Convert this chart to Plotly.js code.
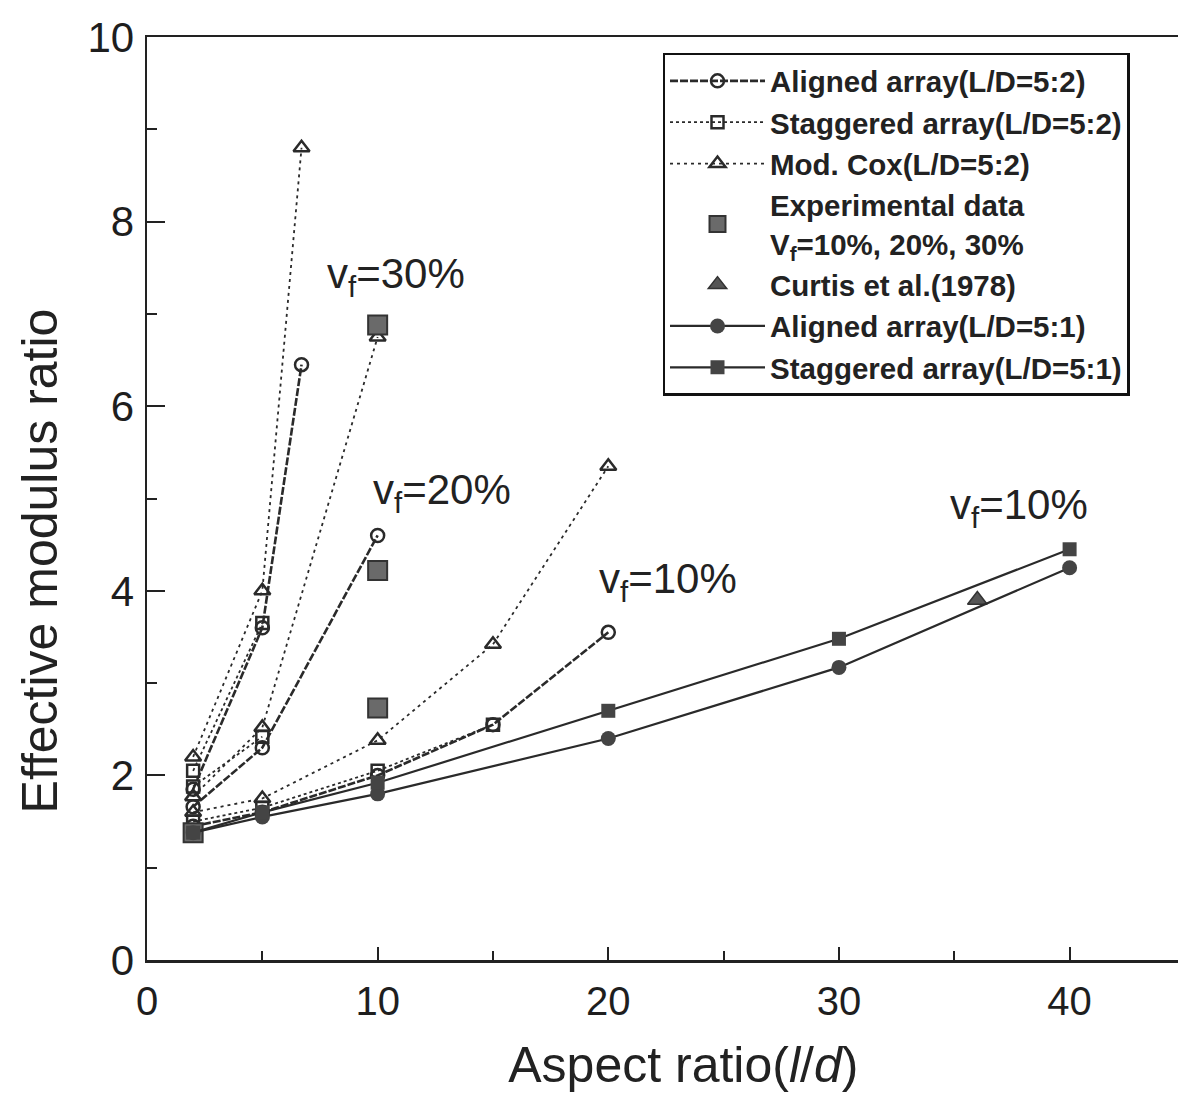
<!DOCTYPE html>
<html><head><meta charset="utf-8">
<script src="https://cdn.plot.ly/plotly-3.0.1.min.js"></script>
<style>body{margin:0;background:#fff}#c{width:1178px;height:1101px}</style>
</head><body><div id="c"></div>
<script>
// Aligned array (L/D=5:2)
const al52_30_x=[2,5,6.7], al52_30_y=[1.85,3.6,6.45];
const al52_20_x=[2,5,10], al52_20_y=[1.66,2.3,4.6];
const al52_10_x=[2,5,10,15,20], al52_10_y=[1.45,1.6,2.0,2.55,3.55];
// Staggered array (L/D=5:2)
const st52_30_x=[2,5], st52_30_y=[2.05,3.65];
const st52_20_x=[2,5], st52_20_y=[1.88,2.42];
const st52_10_x=[2,5,10,15], st52_10_y=[1.5,1.65,2.05,2.55];
// Mod. Cox (L/D=5:2)
const cox_30_x=[2,5,6.7], cox_30_y=[2.2,4.0,8.8];
const cox_20_x=[2,5,10], cox_20_y=[1.77,2.52,6.75];
const cox_10_x=[2,5,10,15,20], cox_10_y=[1.6,1.75,2.38,3.42,5.35];
// Experimental data
const exp_x=[2,10,10,10], exp_y=[1.38,2.73,4.22,6.88];
// Curtis et al. (1978)
const curtis_x=[36], curtis_y=[3.9];
// L/D=5:1, vf=10%
const al51_x=[2,5,10,20,30,40], al51_y=[1.38,1.55,1.8,2.4,3.17,4.25];
const st51_x=[2,5,10,20,30,40], st51_y=[1.38,1.6,1.92,2.7,3.48,4.45];
// labels
const lab_x=[10.8,12.8,22.6,37.8], lab_y=[7.4,5.07,4.1,4.9];
const lab_t=['v<sub>f</sub>=30%','v<sub>f</sub>=20%','v<sub>f</sub>=10%','v<sub>f</sub>=10%'];
const xticks=[0,10,20,30,40], yticks=[0,2,4,6,8,10];

const C='#2a2a2a';
function join(xs,ys){let X=[],Y=[];xs.forEach((x,i)=>{if(i){X.push(null);Y.push(null);}X.push(...x);Y.push(...ys[i]);});return [X,Y];}
const [alX,alY]=join([al52_30_x,al52_20_x,al52_10_x],[al52_30_y,al52_20_y,al52_10_y]);
const [stX,stY]=join([st52_30_x,st52_20_x,st52_10_x],[st52_30_y,st52_20_y,st52_10_y]);
const [cxX,cxY]=join([cox_30_x,cox_20_x,cox_10_x],[cox_30_y,cox_20_y,cox_10_y]);

const traces=[
 {x:alX,y:alY,name:'Aligned array(L/D=5:2)',legendgroup:'a',mode:'lines+markers',line:{color:C,width:2.6,dash:'8px,2px'},marker:{symbol:'circle-open',size:13,color:C,line:{width:2.5}}},
 {x:stX,y:stY,name:'Staggered array(L/D=5:2)',legendgroup:'b',mode:'lines+markers',line:{color:C,width:1.8,dash:'dot'},marker:{symbol:'square-open',size:12,color:C,line:{width:2.5}}},
 {x:cxX,y:cxY,name:'Mod. Cox(L/D=5:2)',legendgroup:'c',mode:'lines+markers',line:{color:C,width:1.8,dash:'3px,4px'},marker:{symbol:'triangle-up-open',size:14,color:C,line:{width:2.5}}},
 {x:exp_x,y:exp_y,name:'Experimental data<br>V<sub>f</sub>=10%, 20%, 30%',legendgroup:'d',mode:'markers',marker:{symbol:'square',size:19,color:'#6a6a6a',line:{width:2,color:'#333'}}},
 {x:curtis_x,y:curtis_y,name:'Curtis et al.(1978)',legendgroup:'e',mode:'markers',marker:{symbol:'triangle-up',size:17,color:'#555',line:{width:1.5,color:'#333'}}},
 {x:al51_x,y:al51_y,name:'Aligned array(L/D=5:1)',legendgroup:'f',mode:'lines+markers',line:{color:C,width:2.2},marker:{symbol:'circle',size:15,color:'#444'}},
 {x:st51_x,y:st51_y,name:'Staggered array(L/D=5:1)',legendgroup:'g',mode:'lines+markers',line:{color:C,width:2.2},marker:{symbol:'square',size:14,color:'#444'}}
];

const F='"Liberation Sans", Arial, sans-serif';
const NB='&nbsp;';
const layout={
 width:1178,height:1101,paper_bgcolor:'#fff',plot_bgcolor:'#fff',
 margin:{l:147,r:0,t:37,b:141},
 font:{family:F,color:'#222'},
 showlegend:true,
 legend:{x:0.5,y:0.983,xanchor:'left',yanchor:'top',bordercolor:'#111',borderwidth:2.5,bgcolor:'#fff',
   font:{size:29.5,family:F,color:'#222',weight:'bold'},tracegroupgap:0,itemwidth:95},
 xaxis:{range:[0,44.7],tickvals:xticks,ticks:'inside',ticklen:13,tickwidth:2,tickcolor:'#222',
   minor:{dtick:5,ticks:'inside',ticklen:9,tickwidth:2,tickcolor:'#222'},
   showline:true,linecolor:'#222',linewidth:2.5,mirror:true,showgrid:false,zeroline:false,
   tickfont:{size:40,family:F,color:'#1e1e1e'},ticklabelstandoff:4,
   title:{text:NB.repeat(3)+'Aspect ratio(<i>l</i>/<i>d</i>)',font:{size:50,family:F,color:'#222'},standoff:26}},
 yaxis:{range:[0,10],tickvals:yticks,ticks:'inside',ticklen:18,tickwidth:2,tickcolor:'#222',
   minor:{dtick:1,ticks:'inside',ticklen:10,tickwidth:2,tickcolor:'#222'},
   showline:true,linecolor:'#222',linewidth:2.5,showgrid:false,zeroline:false,
   tickfont:{size:42,family:F,color:'#1e1e1e'},ticklabelstandoff:2,
   title:{text:'Effective modulus ratio'+NB.repeat(9),font:{size:50,family:F,color:'#222'},standoff:14}},
 annotations:lab_x.map((x,i)=>({x:x,y:lab_y[i],text:lab_t[i],showarrow:false,font:{size:42,family:F,color:'#222'}}))
};
Plotly.newPlot('c',traces,layout,{staticPlot:true});
</script></body></html>
